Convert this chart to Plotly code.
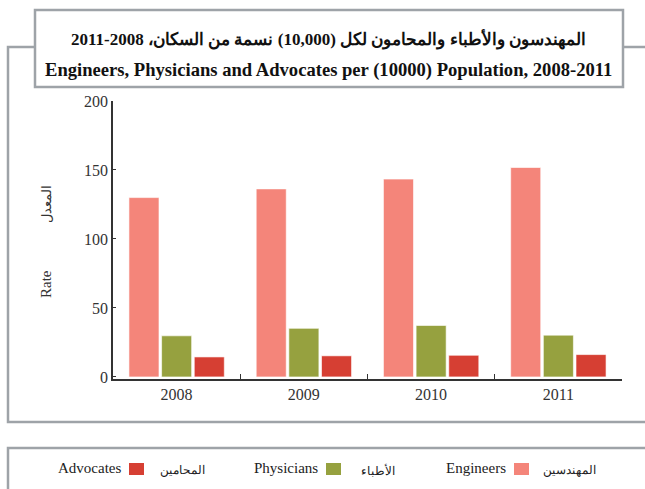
import plotly.graph_objects as go

years = ["2008", "2009", "2010", "2011"]
engineers = [130, 136.3, 143.4, 151.8]
physicians = [29.8, 35.2, 37.3, 30.3]
advocates = [14.5, 15.3, 15.7, 16.2]

series_en = ["Engineers", "Physicians", "Advocates"]
series_ar = ["المهندسين", "الأطباء", "المحامين"]
colors = ["#F4857A", "#96A13F", "#D63F33"]

title_ar = "\u202bالمهندسون والأطباء والمحامون لكل (10,000) نسمة من السكان، 2008-2011\u202c"
title_en = "Engineers, Physicians and Advocates per (10000) Population, 2008-2011"

W, H = 645, 489
SERIF = "Liberation Serif, Times New Roman, serif"
GREY = "#9EA3A8"


def px(x):
    return x / W


def py(y):
    return 1 - y / H


def label(text, x, y, size, xanchor="center", angle=0, color="#333"):
    return dict(text=text, x=px(x), y=py(y), xref="paper", yref="paper",
                xanchor=xanchor, yanchor="middle", textangle=angle, showarrow=False,
                font=dict(family=SERIF, size=size, color=color))


fig = go.Figure()
for name, vals, col in zip(series_en, [engineers, physicians, advocates], colors):
    fig.add_trace(go.Bar(
        x=years, y=vals, name=name,
        marker=dict(color=col, line=dict(color="rgba(255,255,255,0.6)", width=1)),
        showlegend=False,
    ))

shapes = [
    # outer chart frame and legend frame, running off the right edge
    dict(type="rect", xref="paper", yref="paper", x0=px(8), x1=px(670), y0=py(47), y1=py(422),
         line=dict(color=GREY, width=2.5), fillcolor="rgba(0,0,0,0)", layer="below"),
    dict(type="rect", xref="paper", yref="paper", x0=px(8), x1=px(670), y0=py(448), y1=py(520),
         line=dict(color=GREY, width=2.5), fillcolor="rgba(0,0,0,0)", layer="below"),
    # title box
    dict(type="rect", xref="paper", yref="paper", x0=px(35), x1=px(623), y0=py(10), y1=py(87),
         line=dict(color=GREY, width=2.5), fillcolor="white", layer="above"),
]

annotations = [
    label("<b>" + title_ar + "</b>", 329, 39, 17, color="#111"),
    label("<b>" + title_en + "</b>", 329, 70, 18.6, color="#111"),
    label("Rate", 46, 284, 15, angle=-90),
    label("المعدل", 46, 204, 13, angle=-90),
]

# hand-built legend: English name, swatch, Arabic name (left to right: Advocates, Physicians, Engineers)
legend_x = [(123, 129, 158), (320, 326, 359), (508, 514, 541)]
for i, (xe, xs, xa) in zip([2, 1, 0], legend_x):
    annotations.append(label(series_en[i], xe, 468, 15, xanchor="right", color="#222"))
    annotations.append(label(series_ar[i], xa, 470, 12, xanchor="left", color="#222"))
    shapes.append(dict(type="rect", xref="paper", yref="paper", x0=px(xs), x1=px(xs + 15),
                       y0=py(475), y1=py(463), line=dict(width=0), fillcolor=colors[i]))

fig.update_layout(
    width=W, height=H,
    margin=dict(l=0, r=0, t=0, b=0, pad=0),
    paper_bgcolor="white", plot_bgcolor="white",
    barmode="group", bargap=0.23, bargroupgap=0.08,
    font=dict(family=SERIF, size=16, color="#333"),
    shapes=shapes, annotations=annotations,
    xaxis=dict(domain=[px(113), px(622)], type="category", showline=True, linecolor="#333",
               linewidth=1.5, ticks="inside", ticklen=5, tickcolor="#333", tickson="boundaries",
               showgrid=False, automargin=False,
               tickfont=dict(family=SERIF, size=16, color="#333")),
    yaxis=dict(domain=[py(379), py(101)], range=[-1.5, 200], tickvals=[0, 50, 100, 150, 200],
               showline=True, linecolor="#333", linewidth=1.5, ticks="inside", ticklen=3,
               tickcolor="#333", showgrid=False, zeroline=False, automargin=False,
               tickfont=dict(family=SERIF, size=16, color="#333")),
)

fig.write_html("out.html", config={"displayModeBar": False},
               post_script="document.body.style.margin='0';document.body.style.overflow='hidden';")
